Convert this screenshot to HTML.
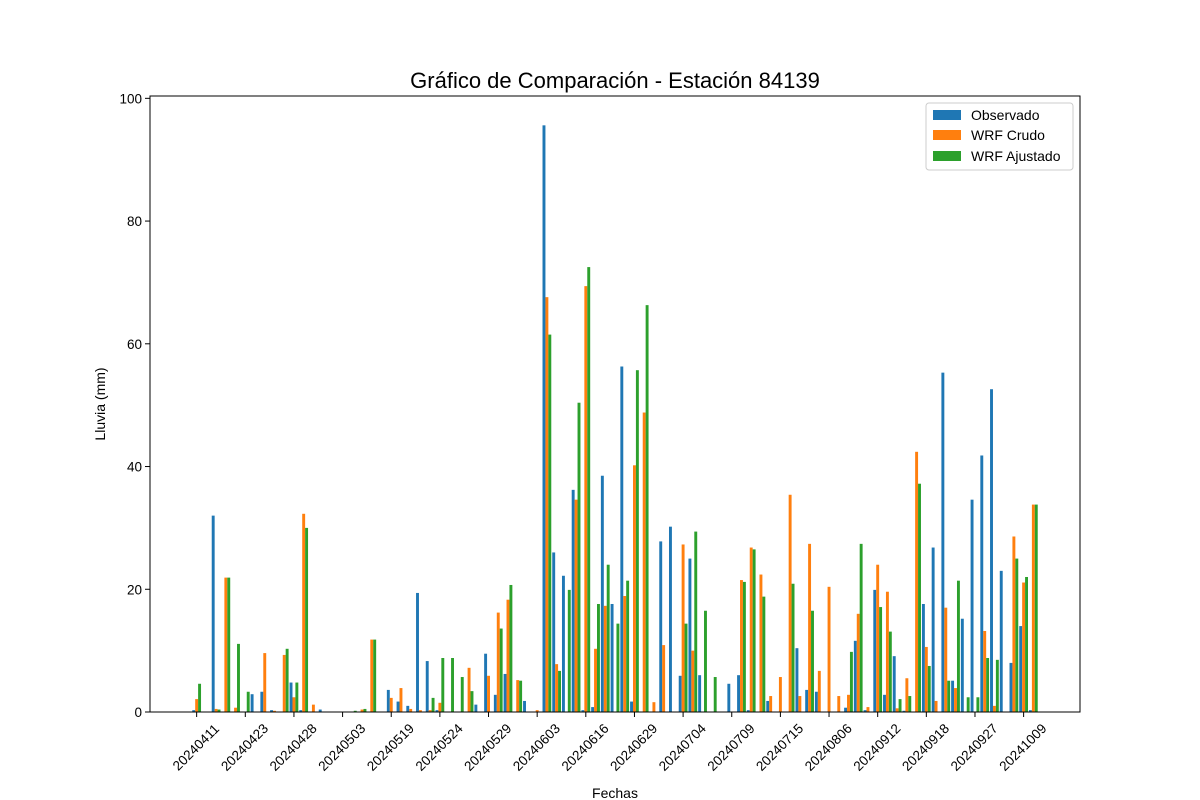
<!DOCTYPE html>
<html><head><meta charset="utf-8"><title>Gráfico de Comparación - Estación 84139</title>
<style>html,body{margin:0;padding:0;background:#fff;}svg{display:block;font-family:"Liberation Sans","DejaVu Sans",sans-serif;}</style>
</head><body>
<svg id="chart" width="1200" height="800" viewBox="0 0 1200 800" xmlns="http://www.w3.org/2000/svg">
<rect x="0" y="0" width="1200" height="800" fill="#fff"/>
<text x="615" y="88" text-anchor="middle" font-size="22" fill="#000">Gráfico de Comparación - Estación 84139</text>
<g id="bars"></g>
<g id="xaxis"></g>
<g id="yaxis"></g>
<rect x="150" y="96" width="930" height="616" fill="none" stroke="#000" stroke-width="1"/>
<text x="615" y="798" text-anchor="middle" font-size="14">Fechas</text>
<text x="0" y="0" transform="translate(105,404) rotate(-90)" text-anchor="middle" font-size="14">Lluvia (mm)</text>
<g>
<rect x="926" y="103" width="147" height="67" rx="3" fill="#fff" fill-opacity="0.8" stroke="#ccc"/>
<g><rect x="933" y="110" width="28" height="10" fill="#1f77b4"/><text x="971" y="120" font-size="14">Observado</text></g>
<g><rect x="933" y="130" width="28" height="10" fill="#ff7f0e"/><text x="971" y="140" font-size="14">WRF Crudo</text></g>
<g><rect x="933" y="151" width="28" height="10" fill="#2ca02c"/><text x="971" y="161" font-size="14">WRF Ajustado</text></g>
</g>
</svg>
<script>
const tickLabels = ["20240411","20240423","20240428","20240503","20240519","20240524","20240529","20240603","20240616","20240629","20240704","20240709","20240715","20240806","20240912","20240918","20240927","20241009"];
const tickEvery = 5;
const observado = [0.3,0,32.0,0,0,0,2.9,3.3,0.3,0,4.8,0.3,0,0.4,0,0,0,0,0,0,3.6,1.7,1.0,19.4,8.3,0.3,0,0,0,1.2,9.5,2.8,6.2,0,1.8,0,95.6,26.0,22.2,36.2,0.3,0.8,38.5,17.6,56.3,1.7,0,0,27.8,30.2,5.9,25.0,6.0,0,0,4.6,6.0,0.3,0,1.8,0,0,10.4,3.6,3.3,0,0,0.7,11.6,0.3,19.9,2.8,9.1,0.2,0,17.6,26.8,55.3,5.1,15.2,34.6,41.8,52.6,23.0,8.0,14.0,0.3];
const wrfCrudo = [2.1,0,0.5,21.9,0.7,0,0,9.6,0.2,9.3,2.4,32.3,1.2,0,0,0,0,0.4,11.8,0,2.3,3.9,0.5,0.3,0.3,1.5,0,0,7.2,0,5.9,16.2,18.3,5.2,0,0.3,67.6,7.8,0,34.6,69.4,10.3,17.3,0,18.9,40.2,48.8,1.6,10.9,0,27.3,10.0,0,0,0,0,21.5,26.8,22.4,2.6,5.7,35.4,2.6,27.4,6.7,20.4,2.6,2.8,16.0,0.8,24.0,19.6,0.6,5.5,42.4,10.6,1.8,17.0,3.9,0,0,13.2,1.0,0,28.6,21.1,33.8];
const wrfAjustado = [4.6,0,0.4,21.9,11.1,3.3,0,0,0,10.3,4.8,30.0,0,0,0,0,0.2,0.5,11.8,0,0,0,0,0,2.3,8.8,8.8,5.7,3.4,0,0,13.6,20.7,5.1,0,0,61.5,6.7,19.9,50.4,72.5,17.6,24.0,14.4,21.4,55.7,66.3,0,0,0,14.4,29.4,16.5,5.7,0,0,21.2,26.5,18.8,0,0,20.9,0,16.5,0,0,0,9.8,27.4,0,17.1,13.1,2.1,2.6,37.2,7.5,0,5.1,21.4,2.4,2.4,8.8,8.5,0,25.0,22.0,33.8];
const yTicks = [0,20,40,60,80,100];

(function(){
  const NS = "http://www.w3.org/2000/svg";
  const L = 150, R = 1080, T = 96, B = 712;
  const n = observado.length;
  const w = 0.3;
  const lo = -1.5*w, hi = (n-1) + 1.5*w, span = hi - lo;
  const xmin = lo - 0.05*span, xmax = hi + 0.05*span;
  const allMax = Math.max(...observado, ...wrfCrudo, ...wrfAjustado);
  const ymax = allMax * 1.05;
  const xs = v => L + (v - xmin) / (xmax - xmin) * (R - L);
  const ys = v => B - v / ymax * (B - T);
  const bars = document.getElementById('bars');
  const series = [[observado,'#1f77b4',-w,'observado'],[wrfCrudo,'#ff7f0e',0,'wrf-crudo'],[wrfAjustado,'#2ca02c',w,'wrf-ajustado']];
  series.forEach(([arr,color,off,name]) => {
    arr.forEach((v,i) => {
      const x0 = xs(i + off - w/2), x1 = xs(i + off + w/2);
      const r = document.createElementNS(NS,'rect');
      r.setAttribute('x', x0);
      r.setAttribute('y', ys(v));
      r.setAttribute('width', x1 - x0);
      r.setAttribute('height', Math.max(0, B - ys(v)));
      r.setAttribute('fill', color);
      
      
      bars.appendChild(r);
    });
  });
  const xa = document.getElementById('xaxis');
  tickLabels.forEach((lab,k) => {
    const x = xs(k*tickEvery);
    const ln = document.createElementNS(NS,'line');
    ln.setAttribute('x1',x); ln.setAttribute('x2',x);
    ln.setAttribute('y1',B); ln.setAttribute('y2',B+5);
    ln.setAttribute('stroke','#000');
    
    
    xa.appendChild(ln);
    const t = document.createElementNS(NS,'text');
    t.setAttribute('transform','translate('+x+','+(B+36)+') rotate(-45)');
    t.setAttribute('text-anchor','middle');
    t.setAttribute('dominant-baseline','middle');
    t.setAttribute('font-size','13.5');
    t.textContent = lab;
    
    
    xa.appendChild(t);
  });
  const ya = document.getElementById('yaxis');
  yTicks.forEach(v => {
    const y = ys(v);
    if (y < T - 1) return;
    const ln = document.createElementNS(NS,'line');
    ln.setAttribute('x1',L-5); ln.setAttribute('x2',L);
    ln.setAttribute('y1',y); ln.setAttribute('y2',y);
    ln.setAttribute('stroke','#000');
    
    
    ya.appendChild(ln);
    const t = document.createElementNS(NS,'text');
    t.setAttribute('x',L-8); t.setAttribute('y',y+5);
    t.setAttribute('text-anchor','end');
    t.setAttribute('font-size','13.5');
    t.textContent = v;
    
    
    ya.appendChild(t);
  });
})();
</script>
</body></html>
